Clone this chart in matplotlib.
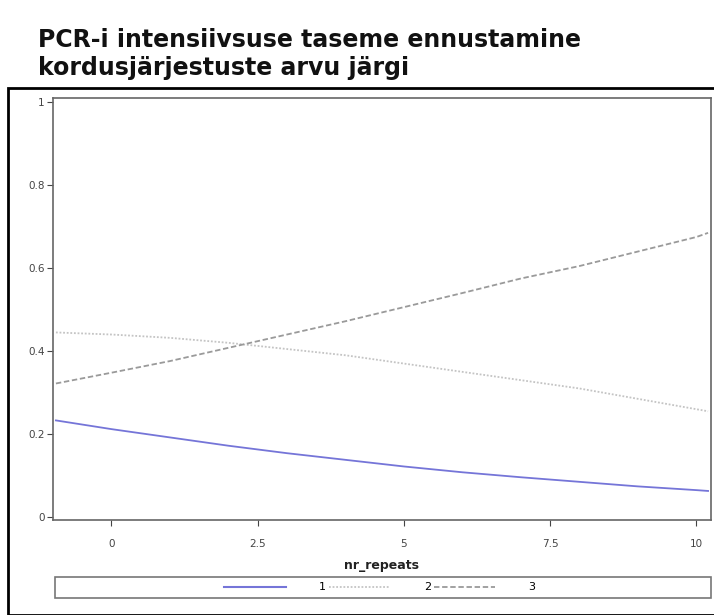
import matplotlib
matplotlib.use("Agg")
import matplotlib.pyplot as plt
from matplotlib.patches import Rectangle
from matplotlib.lines import Line2D

# values
nr_repeats = [-0.95, 0, 1, 2, 3, 4, 5, 6, 7, 8, 9, 10, 10.2]
level_1 = [0.233, 0.212, 0.192, 0.172, 0.154, 0.138, 0.122, 0.108, 0.096, 0.085, 0.074, 0.065, 0.063]
level_2 = [0.445, 0.440, 0.432, 0.420, 0.405, 0.390, 0.370, 0.350, 0.330, 0.310, 0.285, 0.260, 0.255]
level_3 = [0.322, 0.348, 0.376, 0.408, 0.440, 0.472, 0.506, 0.540, 0.575, 0.605, 0.640, 0.675, 0.685]
legend_labels = ["1", "2", "3"]
x_ticks = [0, 2.5, 5, 7.5, 10]
x_ticklabels = ["0", "2.5", "5", "7.5", "10"]
y_ticks = [0, 0.2, 0.4, 0.6, 0.8, 1]
y_ticklabels = ["0", "0.2", "0.4", "0.6", "0.8", "1"]

fig = plt.figure(figsize=(7.14, 6.15), dpi=100)

# outer black frame
fig.patches.append(Rectangle((8 / 714, 0), 1.0, 1 - 88 / 615, transform=fig.transFigure,
                             fill=False, edgecolor="black", linewidth=2, clip_on=False))

fig.text(38 / 714, 1 - 54 / 615, "PCR-i intensiivsuse taseme ennustamine\nkordusjärjestuste arvu järgi",
         fontsize=17, fontweight="bold", va="center", ha="left", linespacing=1.22, color="#111111")

ax = fig.add_axes([53 / 714, 95 / 615, (711 - 53) / 714, (520 - 98) / 615])
ax.plot(nr_repeats, level_1, color="#7575d8", linewidth=1.3, linestyle="-")
ax.plot(nr_repeats, level_2, color="#c4c4c4", linewidth=1.3, linestyle=(0, (1, 1)))
ax.plot(nr_repeats, level_3, color="#9a9a9a", linewidth=1.3, linestyle=(0, (3, 1.5)))

ax.set_xlim(-1.0, 10.25)
ax.set_ylim(-0.007, 1.01)
ax.set_xticks(x_ticks)
ax.set_xticklabels(x_ticklabels)
ax.set_yticks(y_ticks)
ax.set_yticklabels(y_ticklabels)
ax.tick_params(labelsize=7.5, colors="#444444", length=4, width=0.8, pad=10)
ax.tick_params(axis="y", pad=2)
for s in ax.spines.values():
    s.set_color("#666666")
    s.set_linewidth(1.2)
ax.set_xlabel("nr_repeats", fontsize=9, fontweight="bold", color="#222222", labelpad=7)

# legend box under the axes
fig.patches.append(Rectangle((55 / 714, 17 / 615), (711 - 55) / 714, 21 / 615,
                             transform=fig.transFigure, fill=False, edgecolor="#777777", linewidth=1.2))
handles = [Line2D([], [], color="#7575d8", linewidth=1.5),
           Line2D([], [], color="#c4c4c4", linewidth=1.3, linestyle=(0, (1, 1))),
           Line2D([], [], color="#9a9a9a", linewidth=1.3, linestyle=(0, (3, 1.5)))]
fig.legend(handles, legend_labels, loc="center", bbox_to_anchor=(380 / 714, 27.5 / 615), ncol=3,
           frameon=False, fontsize=8, handlelength=5.5, handletextpad=3, columnspacing=0.3,
           borderpad=0)

fig.savefig("out.png", dpi=100)
